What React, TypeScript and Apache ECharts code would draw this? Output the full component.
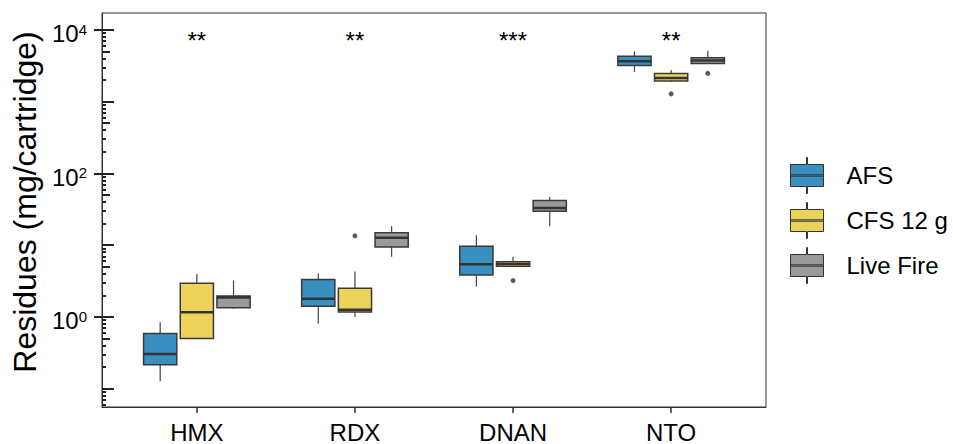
import React, { useEffect, useRef } from "react";
import * as echarts from "echarts";

// ---- data ----
const categories = ["HMX", "RDX", "DNAN", "NTO"];
const groupNames = ["AFS", "CFS 12 g", "Live Fire"];
// [low whisker, Q1, median, Q3, high whisker] per category
const afsBox = [
  [0.127, 0.216, 0.305, 0.589, 0.845],
  [0.809, 1.41, 1.79, 3.31, 4.04],
  [2.65, 3.84, 5.43, 9.62, 13.7],
  [2576, 3184, 3655, 4285, 5023],
];
const cfsBox = [
  [0.502, 0.502, 1.16, 2.94, 3.96],
  [1.0, 1.17, 1.26, 2.51, 4.31],
  [5.1, 5.1, 5.47, 5.87, 6.87],
  [1879, 1937, 2130, 2472, 2748],
];
const liveBox = [
  [1.3, 1.34, 1.87, 1.95, 3.21],
  [6.87, 9.44, 12.7, 14.9, 18.4],
  [18.4, 29.6, 32.9, 42.0, 46.7],
  [3396, 3396, 3733, 4073, 5129],
];
// outliers: [category index, value]
const afsOutliers: number[][] = [];
const cfsOutliers = [
  [1, 13.5],
  [2, 3.21],
  [3, 1282],
];
const liveOutliers = [[3, 2472]];
const significance = ["**", "**", "***", "**"];
const significanceY = 7200;

// axis ticks
const yMin = 0.0556;
const yMax = 17160;
const yLabelTicks = [1, 100, 10000];
const decadeTicks = [0.1, 1, 10, 100, 1000, 10000];
const fiveTicks = [0.5, 5, 50, 500, 5000];
const minorTicks = [
  0.06, 0.07, 0.08, 0.09, 0.2, 0.3, 0.4, 0.6, 0.7, 0.8, 0.9, 2, 3, 4, 6, 7, 8, 9,
  20, 30, 40, 60, 70, 80, 90, 200, 300, 400, 600, 700, 800, 900, 2000, 3000, 4000,
  6000, 7000, 8000, 9000,
];
const xTicks = [1, 2, 3, 4];

const colors = ["#3a8fc1", "#ecd45c", "#9a9a9a"];
const FONT = "Liberation Sans, Arial, Helvetica, sans-serif";
const OFFSETS = [-0.232, 0, 0.232];
const BOX_W = 0.21;

function boxRender(offset: number, color: string) {
  return (_params: any, api: any) => {
    const x = api.value(0) + offset;
    const low = api.coord([x, api.value(1)]);
    const q1 = api.coord([x, api.value(2)]);
    const med = api.coord([x, api.value(3)]);
    const q3 = api.coord([x, api.value(4)]);
    const high = api.coord([x, api.value(5)]);
    const left = api.coord([x - BOX_W / 2, api.value(3)])[0];
    const right = api.coord([x + BOX_W / 2, api.value(3)])[0];
    const cx = med[0];
    return {
      type: "group",
      children: [
        {
          type: "line",
          shape: { x1: cx, y1: high[1], x2: cx, y2: q3[1] },
          style: { stroke: "#444", lineWidth: 1.2 },
        },
        {
          type: "line",
          shape: { x1: cx, y1: q1[1], x2: cx, y2: low[1] },
          style: { stroke: "#444", lineWidth: 1.2 },
        },
        {
          type: "rect",
          shape: { x: left, y: q3[1], width: right - left, height: q1[1] - q3[1] },
          style: { fill: color, stroke: "#3a3a3a", lineWidth: 1.5 },
        },
        {
          type: "line",
          shape: { x1: left, y1: med[1], x2: right, y2: med[1] },
          style: { stroke: "#333", lineWidth: 2.6 },
        },
      ],
    };
  };
}

const legendIcon =
  "path://M16,0 L17,0 L17,7 L33,7 L33,29 L17,29 L17,36 L16,36 L16,29 L0,29 L0,7 L16,7 Z M0,17.3 L33,17.3 L33,18.7 L0,18.7 Z";

export default function App() {
  const ref = useRef<HTMLDivElement>(null);
  useEffect(() => {
    if (!ref.current) return;
    const chart = echarts.init(ref.current, undefined, { renderer: "svg" });
    const boxes = [afsBox, cfsBox, liveBox];
    const outs = [afsOutliers, cfsOutliers, liveOutliers];

    const baseY = {
      type: "log" as const,
      logBase: 10,
      min: yMin,
      max: yMax,
      position: "left" as const,
      splitLine: { show: false },
    };

    const series: any[] = [];
    boxes.forEach((b, gi) => {
      series.push({
        type: "custom",
        name: groupNames[gi],
        renderItem: boxRender(OFFSETS[gi], colors[gi]),
        itemStyle: { color: colors[gi] },
        encode: { x: 0, y: [1, 2, 3, 4, 5] },
        data: b.map((v, ci) => [ci + 1, ...v]),
        z: 3,
      });
    });
    outs.forEach((o, gi) => {
      series.push({
        type: "scatter",
        name: groupNames[gi] + " outliers",
        symbol: "circle",
        symbolSize: 5,
        itemStyle: { color: "#333" },
        data: o.map(([ci, v]) => [ci + 1 + OFFSETS[gi], v]),
        z: 4,
      });
    });
    series.push({
      type: "custom",
      name: "significance",
      data: significance.map((s, i) => [i + 1, significanceY, s]),
      encode: { x: 0, y: 1 },
      renderItem: (_p: any, api: any) => {
        const pt = api.coord([api.value(0), api.value(1)]);
        return {
          type: "text",
          x: pt[0],
          y: pt[1],
          style: {
            text: significance[_p.dataIndex],
            fontSize: 24,
            fontFamily: FONT,
            fill: "#000",
            align: "center",
            verticalAlign: "middle",
          },
        };
      },
      z: 5,
    });

    chart.setOption({
      animation: false,
      backgroundColor: "#fff",
      grid: {
        left: 102,
        right: 187,
        top: 13,
        bottom: 33,
        show: true,
        borderColor: "#333",
        borderWidth: 1,
        backgroundColor: "transparent",
      },
      legend: {
        orient: "vertical",
        left: 790,
        top: 157,
        padding: 0,
        itemWidth: 33,
        itemHeight: 36,
        itemGap: 8,
        selectedMode: false,
        textStyle: {
          fontSize: 24,
          fontFamily: FONT,
          color: "#000",
          padding: [0, 0, 0, 18],
        },
        data: groupNames.map((n, i) => ({
          name: n,
          icon: legendIcon,
          itemStyle: { color: colors[i], borderColor: "#333", borderWidth: 1 },
        })),
      },
      xAxis: {
        type: "value",
        min: 0.4,
        max: 4.6,
        splitLine: { show: false },
        axisLine: { show: true, lineStyle: { color: "#333", width: 1 } },
        axisTick: {
          show: true,
          customValues: xTicks,
          length: 6,
          lineStyle: { color: "#333", width: 1.5 },
        },
        axisLabel: {
          customValues: xTicks,
          formatter: (v: number) => categories[Math.round(v) - 1] ?? "",
          fontSize: 24,
          fontFamily: FONT,
          color: "#000",
          margin: 13,
        },
      },
      yAxis: [
        {
          ...baseY,
          name: "Residues (mg/cartridge)",
          nameLocation: "middle",
          nameGap: 58,
          nameRotate: 90,
          nameTextStyle: {
            fontSize: 32,
            fontFamily: FONT,
            color: "#000",
            padding: [0, 0, 0, 16],
          },
          axisLine: { show: true, lineStyle: { color: "#333", width: 1 } },
          axisTick: {
            show: true,
            inside: false,
            length: 8,
            customValues: yLabelTicks,
            lineStyle: { color: "#222", width: 2 },
          },
          axisLabel: {
            customValues: yLabelTicks,
            margin: 15,
            padding: [8, 0, 0, 0],
            formatter: (v: number) => {
              const e = Math.round(Math.log10(v));
              return "{b|10}{s|" + e + "}";
            },
            rich: {
              b: { fontSize: 24, fontFamily: FONT, color: "#000" },
              s: { fontSize: 15, fontFamily: FONT, color: "#000", verticalAlign: "top" },
            },
          },
        },
        {
          ...baseY,
          axisLine: { show: false },
          axisLabel: { show: false },
          axisTick: {
            show: true,
            inside: true,
            length: 12,
            customValues: decadeTicks,
            lineStyle: { color: "#222", width: 2 },
          },
        },
        {
          ...baseY,
          axisLine: { show: false },
          axisLabel: { show: false },
          axisTick: {
            show: true,
            inside: true,
            length: 8,
            customValues: fiveTicks,
            lineStyle: { color: "#222", width: 2 },
          },
        },
        {
          ...baseY,
          axisLine: { show: false },
          axisLabel: { show: false },
          axisTick: {
            show: true,
            inside: true,
            length: 4,
            customValues: minorTicks,
            lineStyle: { color: "#222", width: 2 },
          },
        },
      ],
      series,
    });
    return () => chart.dispose();
  }, []);
  return (
    <div
      ref={ref}
      style={{ position: "absolute", left: 0, top: 0, width: 953, height: 444 }}
    />
  );
}
